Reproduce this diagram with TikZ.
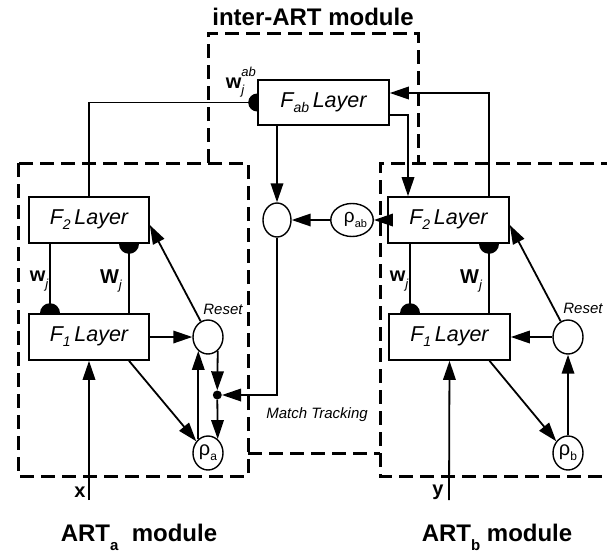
\documentclass[tikz,border=0pt]{standalone}
\usepackage{fontspec}
\setmainfont{Liberation Sans}
\usetikzlibrary{arrows.meta,shapes.geometric}
\newcommand{\lay}[1]{F\raisebox{-0.45ex}{\fontsize{14}{14}\selectfont #1}\,Layer}
\newcommand{\rhosub}[1]{\fontsize{20}{20}\selectfont ρ\raisebox{-0.5ex}{\fontsize{12}{12}\selectfont #1}}
\begin{document}
\begin{tikzpicture}[x=1pt,y=1pt,
  arr/.style={-{Triangle[length=19pt,width=12.5pt]}},
  conn/.style={line width=1.8pt},
  box/.style={draw, line width=1.6pt, minimum width=120pt, minimum height=46pt, inner sep=0pt, font=\fontsize{21.5}{25}\selectfont\itshape},
  oval/.style={draw, ellipse, line width=1.4pt, minimum width=30pt, minimum height=34pt, inner sep=0pt},
  modbox/.style={line width=3pt, dash pattern=on 14pt off 7pt},
  lbl/.style={font=\fontsize{20}{22}\selectfont\bfseries, inner sep=0pt},
  small/.style={font=\fontsize{15}{17}\selectfont\itshape, inner sep=0pt},
  title/.style={font=\fontsize{24}{28}\selectfont\bfseries, inner sep=0pt},
  dotst/.style={circle, fill, minimum size=9pt, inner sep=0pt},
]
\useasboundingbox (0,0) rectangle (607,-557);

% module boundaries
\draw[modbox] (18,-163) rectangle (248,-476);
\draw[modbox] (615,-163) -- (380,-163) -- (380,-476) -- (615,-476);
\draw[modbox] (208,-163) -- (208,-33) -- (418,-33) -- (418,-163);
\draw[modbox] (248,-453) -- (380,-453);

% titles
\node[title] (tinter) at (313,-17) {inter-ART module};
\node[title] (tarta) at (139,-537) {ART\raisebox{-0.7ex}{\fontsize{15}{15}\selectfont a}\ \ module};
\node[title] (tartb) at (497,-537) {ART\raisebox{-0.7ex}{\fontsize{15}{15}\selectfont b}\ module};

% layers
\node[box] (F2a) at (89,-220) {\lay{2}};
\node[box] (F1a) at (89,-337) {\lay{1}};
\node[box, minimum width=131pt, minimum height=45pt] (Fab) at (323.5,-102.5) {F\raisebox{-0.45ex}{\fontsize{14}{14}\selectfont ab}\,Layer};
\node[box, minimum width=121pt] (F2b) at (448.5,-220) {\lay{2}};
\node[box, minimum width=121pt] (F1b) at (449.5,-337) {\lay{1}};

% ovals
\node[oval, minimum width=28pt] (M) at (277,-220) {};
\node[oval, minimum width=20pt, minimum height=33pt] (Pab) at (352,-220) {\hspace*{7pt}\fontsize{19}{19}\selectfont ρ\raisebox{-0.5ex}{\fontsize{11}{11}\selectfont ab}};
\node[oval] (Ra) at (208,-337) {};
\node[oval] (Pa) at (208,-453) {\rhosub{a}};
\node[oval] (Rb) at (568,-337) {};
\node[oval] (Pb) at (568,-453) {\rhosub{b}};
\node[dotst] (dot) at (217.3,-395) {};

\coordinate (xin) at (89,-500);
\coordinate (yin) at (449,-500);

% inter-ART connections
\draw[conn] (F2a.north) |- (Fab.west);
\fill ([yshift=9pt]Fab.west) arc[start angle=90,end angle=270,radius=9pt] -- cycle;
\draw[conn,arr] (Fab.south -| M) -- (M.north);
\draw[conn,arr] ([yshift=-12.5pt]Fab.east) -| ([xshift=-40.5pt]F2b.north);
\draw[conn,arr] ([xshift=40.5pt]F2b.north) |- ([yshift=9.5pt]Fab.east);
\draw[conn,arr] (F2b.west) -- (Pab.east);
\draw[conn,arr] (Pab.west) -- (M.east);
\draw[conn,arr] (M.south) |- (dot.east);

% ART_a
\draw[conn] ([xshift=-39pt]F2a.south) -- ([xshift=-39pt]F1a.north);
\fill ([xshift=-49pt]F1a.north) arc[start angle=180,end angle=0,radius=10pt] -- cycle;
\draw[conn] ([xshift=40pt]F1a.north) -- ([xshift=40pt]F2a.south);
\fill ([xshift=30pt]F2a.south) arc[start angle=180,end angle=360,radius=10pt] -- cycle;
\draw[conn,arr] (F1a.east) -- (Ra.west);
\draw[conn,arr] (Ra.115) -- ([yshift=-5pt]F2a.east);
\draw[conn,arr] ([xshift=40pt]F1a.south) -- (Pa.135);
\draw[conn,arr] (Pa.125) -- (Ra.-125);
\draw[conn,arr] (Ra.-55) -- (dot.north);
\draw[conn,arr] (dot.south) -- (Pa.55);
\draw[conn,arr] (xin) -- (F1a.south);

% ART_b
\draw[conn] ([xshift=-38.5pt]F2b.south) -- ([xshift=-39.5pt]F1b.north);
\fill ([xshift=-49.5pt]F1b.north) arc[start angle=180,end angle=0,radius=10pt] -- cycle;
\draw[conn] ([xshift=39.5pt]F1b.north) -- ([xshift=40.5pt]F2b.south);
\fill ([xshift=30.5pt]F2b.south) arc[start angle=180,end angle=360,radius=10pt] -- cycle;
\draw[conn,arr] (Rb.west) -- (F1b.east);
\draw[conn,arr] (Rb.115) -- ([yshift=-5pt]F2b.east);
\draw[conn,arr] ([xshift=40pt]F1b.south) -- (Pb.135);
\draw[conn,arr] (Pb.north) -- (Rb.south);
\draw[conn,arr] (yin) -- (F1b.south);

% labels
\node[lbl] (lwa) at (39,-281) {w\raisebox{-0.6ex}{\fontsize{13}{13}\selectfont\mdseries\itshape j}};
\node[lbl] (lWa) at (111,-281) {W\raisebox{-0.6ex}{\fontsize{13}{13}\selectfont\mdseries\itshape j}};
\node[lbl] (lwb) at (399,-281) {w\raisebox{-0.6ex}{\fontsize{13}{13}\selectfont\mdseries\itshape j}};
\node[lbl] (lWb) at (471,-281) {W\raisebox{-0.6ex}{\fontsize{13}{13}\selectfont\mdseries\itshape j}};
\node[lbl] (lwab) at (239,-82) {w\rlap{\raisebox{1.1ex}{\fontsize{13}{13}\selectfont\mdseries\itshape ab}}\raisebox{-0.6ex}{\fontsize{13}{13}\selectfont\mdseries\itshape j}\hspace*{8pt}};
\node[lbl] (lx) at (80,-492) {x};
\node[lbl] (ly) at (438,-492) {y};
\node[small] (rsa) at (223,-309) {Reset};
\node[small] (rsb) at (583,-308) {Reset};
\node[small] (mt) at (317,-415) {Match Tracking};
\end{tikzpicture}
\end{document}
